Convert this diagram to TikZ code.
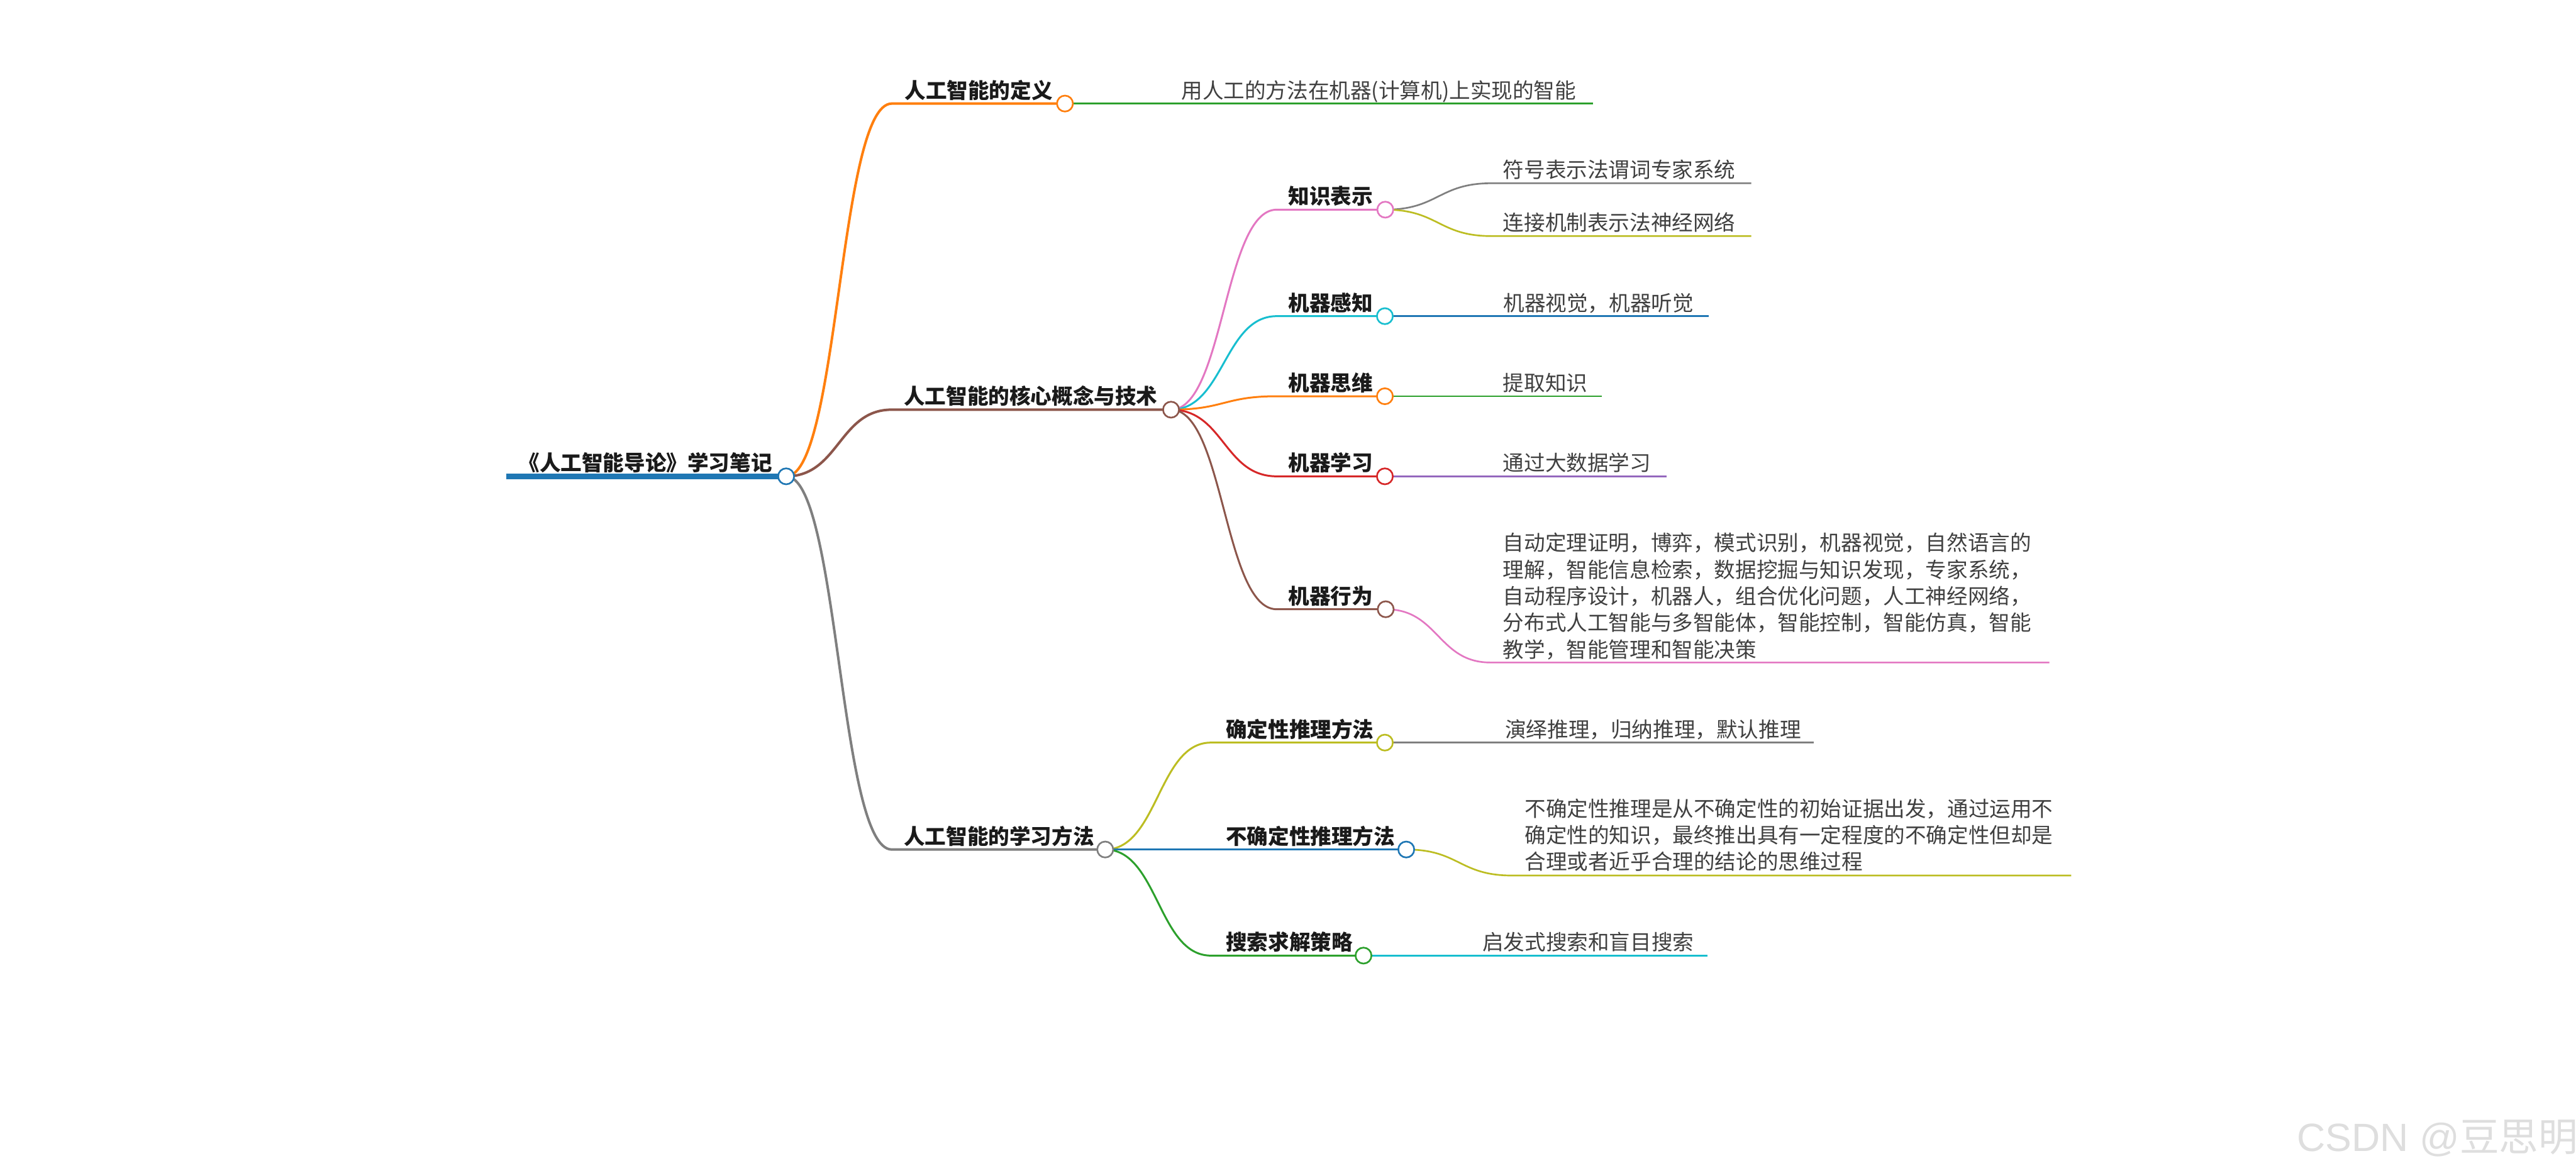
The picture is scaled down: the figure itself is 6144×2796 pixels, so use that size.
\documentclass[tikz,border=0pt]{standalone}
\usepackage{fontspec}
\setmainfont{Noto Sans CJK SC}
\newfontfamily\wmlatin{Liberation Sans}
\usetikzlibrary{backgrounds}
\definecolor{tblue}{HTML}{1F77B4}
\definecolor{torange}{HTML}{FF7F0E}
\definecolor{tgreen}{HTML}{2CA02C}
\definecolor{tred}{HTML}{D62728}
\definecolor{tpurple}{HTML}{9467BD}
\definecolor{tbrown}{HTML}{8C564B}
\definecolor{tpink}{HTML}{E377C2}
\definecolor{tgray}{HTML}{7F7F7F}
\definecolor{tolive}{HTML}{BCBD22}
\definecolor{tcyan}{HTML}{17BECF}
\definecolor{hdcol}{HTML}{1A1A1A}
\definecolor{txcol}{HTML}{404040}
\definecolor{wmcol}{HTML}{DEDEDE}
\pgfdeclarelayer{bg}
\pgfsetlayers{bg,main}
\tikzset{
  hd/.style={font=\fontsize{12.6pt}{15pt}\selectfont\bfseries, text=hdcol, inner sep=0pt, anchor=base west},
  tx/.style={font=\fontsize{12.6pt}{15.875pt}\selectfont, text=txcol, inner sep=0pt, anchor=base west},
  knot/.style={circle, draw=#1, fill=white, line width=1pt, minimum size=9.5pt, inner sep=0pt},
  lone/.style={draw=#1, line width=1.5pt},
  ltwo/.style={draw=#1, line width=1.125pt},
  lthree/.style={draw=#1, line width=1pt}
}
\begin{document}
\begin{tikzpicture}[x=0.25pt,y=-0.25pt]
\useasboundingbox (0,0) rectangle (6144,2796);

% ---------- root ----------
\coordinate (Rs) at (1208,1136);
\node[knot=tblue] (R) at (1875,1136) {};
\node[hd] (Rt) at (1236,1123) {《人工智能导论》学习笔记};

% ---------- level 1 ----------
\coordinate (As) at (2127,247);
\node[knot=torange] (A) at (2540,247) {};
\node[hd] (At) at (2157,234) {人工智能的定义};
\coordinate (Ae) at (3799,247);
\node[tx] (Att) at (2817,234) {用人工的方法在机器(计算机)上实现的智能};

\coordinate (Bs) at (2127,977);
\node[knot=tbrown] (B) at (2793,977) {};
\node[hd] (Bt) at (2155,964) {人工智能的核心概念与技术};

\coordinate (Cs) at (2127,2026);
\node[knot=tgray] (C) at (2636,2026) {};
\node[hd] (Ct) at (2155,2013) {人工智能的学习方法};

% ---------- level 2 under B ----------
\coordinate (B1s) at (3045,500);
\node[knot=tpink] (B1) at (3304,500) {};
\node[hd] (B1t) at (3072,487) {知识表示};
\coordinate (B1as) at (3557,437);
\coordinate (B1ae) at (4177,437);
\node[tx] (B1at) at (3584,424) {符号表示法谓词专家系统};
\coordinate (B1bs) at (3557,563);
\coordinate (B1be) at (4177,563);
\node[tx] (B1bt) at (3584,550) {连接机制表示法神经网络};

\coordinate (B2s) at (3045,754);
\node[knot=tcyan] (B2) at (3303,754) {};
\node[hd] (B2t) at (3072,741) {机器感知};
\coordinate (B2e) at (4075,754);
\node[tx] (B2tt) at (3585,741) {机器视觉，机器听觉};

\coordinate (B3s) at (3045,945);
\node[knot=torange] (B3) at (3303,945) {};
\node[hd] (B3t) at (3072,932) {机器思维};
\coordinate (B3e) at (3821,945);
\node[tx] (B3tt) at (3584,932) {提取知识};

\coordinate (B4s) at (3045,1136);
\node[knot=tred] (B4) at (3303,1136) {};
\node[hd] (B4t) at (3072,1123) {机器学习};
\coordinate (B4e) at (3975,1136);
\node[tx] (B4tt) at (3584,1123) {通过大数据学习};

\coordinate (B5s) at (3045,1453);
\node[knot=tbrown] (B5) at (3305,1453) {};
\node[hd] (B5t) at (3072,1440) {机器行为};
\coordinate (B5as) at (3555,1580);
\coordinate (B5ae) at (4888,1580);
\node[tx, align=left] (B5at) at (3584,1567.5) {自动定理证明，博弈，模式识别，机器视觉，自然语言的\\理解，智能信息检索，数据挖掘与知识发现，专家系统，\\自动程序设计，机器人，组合优化问题，人工神经网络，\\分布式人工智能与多智能体，智能控制，智能仿真，智能\\教学，智能管理和智能决策};

% ---------- level 2 under C ----------
\coordinate (C1s) at (2888,1771);
\node[knot=tolive] (C1) at (3303,1771) {};
\node[hd] (C1t) at (2923,1758) {确定性推理方法};
\coordinate (C1e) at (4326,1771);
\node[tx] (C1tt) at (3589,1758) {演绎推理，归纳推理，默认推理};

\coordinate (C2s) at (2888,2026);
\node[knot=tblue] (C2) at (3354,2026) {};
\node[hd] (C2t) at (2923,2013) {不确定性推理方法};
\coordinate (C2as) at (3606,2088);
\coordinate (C2ae) at (4940,2088);
\node[tx, align=left] (C2at) at (3636,2074) {不确定性推理是从不确定性的初始证据出发，通过运用不\\确定性的知识，最终推出具有一定程度的不确定性但却是\\合理或者近乎合理的结论的思维过程};

\coordinate (C3s) at (2888,2279);
\node[knot=tgreen] (C3) at (3252,2279) {};
\node[hd] (C3t) at (2923,2266) {搜索求解策略};
\coordinate (C3e) at (4073,2279);
\node[tx] (C3tt) at (3535,2266) {启发式搜索和盲目搜索};

% ---------- watermark ----------
\node[inner sep=0pt, anchor=base west, text=wmcol, font=\fontsize{23.5pt}{28pt}\selectfont] (wm) at (5478,2746) {{\wmlatin CSDN @}豆思明};

% ---------- connectors ----------
\begin{pgfonlayer}{bg}
\draw[line width=3.25pt, tblue] (Rs) -- (R.center);
% level 1
\draw[lone=torange] (R.center) .. controls +(126,0) and +(-126,0) .. (As) -- (A.center);
\draw[lone=tbrown] (R.center) .. controls +(126,0) and +(-126,0) .. (Bs) -- (B.center);
\draw[lone=tgray] (R.center) .. controls +(126,0) and +(-126,0) .. (Cs) -- (C.center);
\draw[lthree=tgreen] (A.center) -- (Ae);
% level 2 under B
\draw[ltwo=tpink] (B.center) .. controls +(126,0) and +(-126,0) .. (B1s) -- (B1.center);
\draw[ltwo=tcyan] (B.center) .. controls +(126,0) and +(-126,0) .. (B2s) -- (B2.center);
\draw[ltwo=torange] (B.center) .. controls +(126,0) and +(-126,0) .. (B3s) -- (B3.center);
\draw[ltwo=tred] (B.center) .. controls +(126,0) and +(-126,0) .. (B4s) -- (B4.center);
\draw[ltwo=tbrown] (B.center) .. controls +(126,0) and +(-126,0) .. (B5s) -- (B5.center);
\draw[lthree=tgray] (B1.center) .. controls +(126,0) and +(-126,0) .. (B1as) -- (B1ae);
\draw[lthree=tolive] (B1.center) .. controls +(126,0) and +(-126,0) .. (B1bs) -- (B1be);
\draw[lthree=tblue] (B2.center) -- (B2e);
\draw[lthree=tgreen] (B3.center) -- (B3e);
\draw[lthree=tpurple] (B4.center) -- (B4e);
\draw[lthree=tpink] (B5.center) .. controls +(126,0) and +(-126,0) .. (B5as) -- (B5ae);
% level 2 under C
\draw[ltwo=tolive] (C.center) .. controls +(126,0) and +(-126,0) .. (C1s) -- (C1.center);
\draw[ltwo=tblue] (C.center) -- (C2.center);
\draw[ltwo=tgreen] (C.center) .. controls +(126,0) and +(-126,0) .. (C3s) -- (C3.center);
\draw[lthree=tgray] (C1.center) -- (C1e);
\draw[lthree=tolive] (C2.center) .. controls +(126,0) and +(-126,0) .. (C2as) -- (C2ae);
\draw[lthree=tcyan] (C3.center) -- (C3e);
\end{pgfonlayer}
\end{tikzpicture}
\end{document}
